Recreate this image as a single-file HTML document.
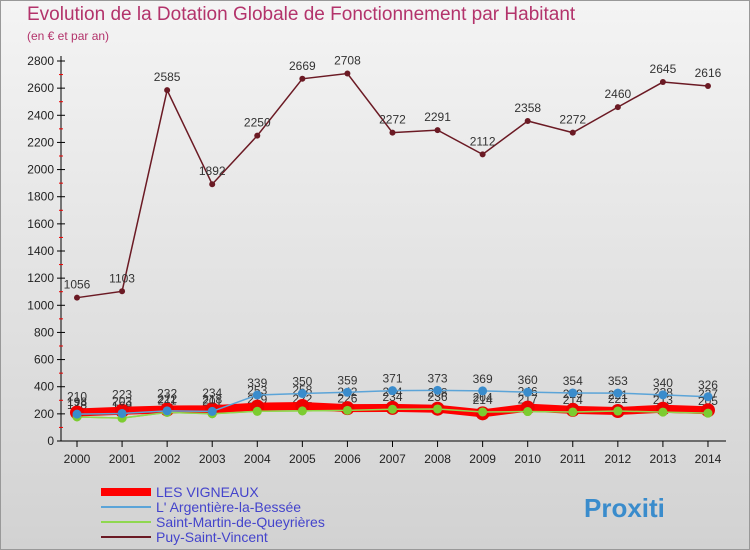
<!DOCTYPE html>
<html><head><meta charset="utf-8"><style>
html,body{margin:0;width:750px;height:550px;overflow:hidden}
#c{width:750px;height:550px;position:relative;background:linear-gradient(#f4f4f4,#d2d2d2);border:1px solid #999;box-sizing:border-box;font-family:"Liberation Sans",sans-serif;overflow:hidden}
.t{position:absolute;left:26px;top:3px;font-size:19px;color:#b3336b}
.s{position:absolute;left:26px;top:28px;font-size:12px;color:#b3336b}
</style></head><body>
<div id="c">
<div class="t">Evolution de la Dotation Globale de Fonctionnement par Habitant</div>
<div class="s">(en € et par an)</div>
<svg id="g" width="750" height="550" style="position:absolute;left:0;top:0"></svg>
</div>
<script>
const years=[2000,2001,2002,2003,2004,2005,2006,2007,2008,2009,2010,2011,2012,2013,2014];
const yTicks=[0,200,400,600,800,1000,1200,1400,1600,1800,2000,2200,2400,2600,2800];
const vigneaux=[210,223,232,234,253,258,242,244,238,204,246,229,221,238,227];
const argentiere=[198,203,222,218,339,350,359,371,373,369,360,354,353,340,326];
const stmartin=[178,169,211,201,219,222,226,234,236,214,217,214,221,213,205];
const puy=[1056,1103,2585,1892,2250,2669,2708,2272,2291,2112,2358,2272,2460,2645,2616];
const legendNames=["LES VIGNEAUX","L' Argentière-la-Bessée","Saint-Martin-de-Queyrières","Puy-Saint-Vincent"];
const NS="http://www.w3.org/2000/svg",g=document.getElementById('g');
const X=i=>76+i*45.07, Y=v=>440-v*380/2800;
function el(t,a,p){const e=document.createElementNS(NS,t);for(const k in a)e.setAttribute(k,a[k]);(p||g).appendChild(e);return e;}
let ax=el('line',{x1:60,y1:55,x2:60,y2:440,stroke:'#000'});


let xa=el('line',{x1:60,y1:440,x2:725,y2:440,stroke:'#000'});


yTicks.forEach(v=>{el('line',{x1:56,x2:64,y1:Y(v),y2:Y(v),stroke:'#000'});
if(v<2800)el('line',{x1:58,x2:62,y1:Y(v+100),y2:Y(v+100),stroke:'#e00'});
const t=el('text',{x:53,y:Y(v)+4,'text-anchor':'end','font-size':12,fill:'#222'});t.textContent=v;

});
years.forEach((y,i)=>{el('line',{x1:X(i),x2:X(i),y1:440,y2:446,stroke:'#000'});
const t=el('text',{x:X(i),y:462,'text-anchor':'middle','font-size':12,fill:'#222'});t.textContent=y;

});
function series(d,col,w,r,dot,name,lab){
const p=el('polyline',{points:d.map((v,i)=>X(i)+','+Y(v)).join(' '),fill:'none',stroke:col,'stroke-width':w});


d.forEach((v,i)=>{const c=el('circle',{cx:X(i),cy:Y(v),r:r,fill:dot});


if(lab===null)return;
const t=el('text',{x:X(i),y:Y(v)-lab,'text-anchor':'middle','font-size':12,fill:'#333'});t.textContent=v;

});}
series(stmartin,'#8fd850',1.5,4.5,'#7ccc30','saint-martin',8);
series(vigneaux,'#ff0000',8,7,'#ee0000','les-vigneaux',12);
series(stmartin,'#8fd850',1.5,4.5,'#7ccc30','saint-martin-top',null);
series(argentiere,'#5ba4d8',1.5,4.5,'#3a8ccc','argentiere',8);
series(puy,'#6b1a24',1.5,3,'#6b1a24','puy',9);
const lc=['#ff0000','#5ba4d8','#8fd850','#6b1a24'],lw=[8,2,2,2];
legendNames.forEach((n,i)=>{const y=491+i*15;
const l=el('line',{x1:100,x2:150,y1:y,y2:y,stroke:lc[i],'stroke-width':lw[i]});


const t=el('text',{x:155,y:y+5,'font-size':14,fill:'#4444cc'});t.textContent=n;

});
const b=el('text',{x:583,y:516,'font-size':26,'font-weight':'bold',fill:'#3a8ccc'});b.textContent='Proxiti';


</script>
</body></html>
